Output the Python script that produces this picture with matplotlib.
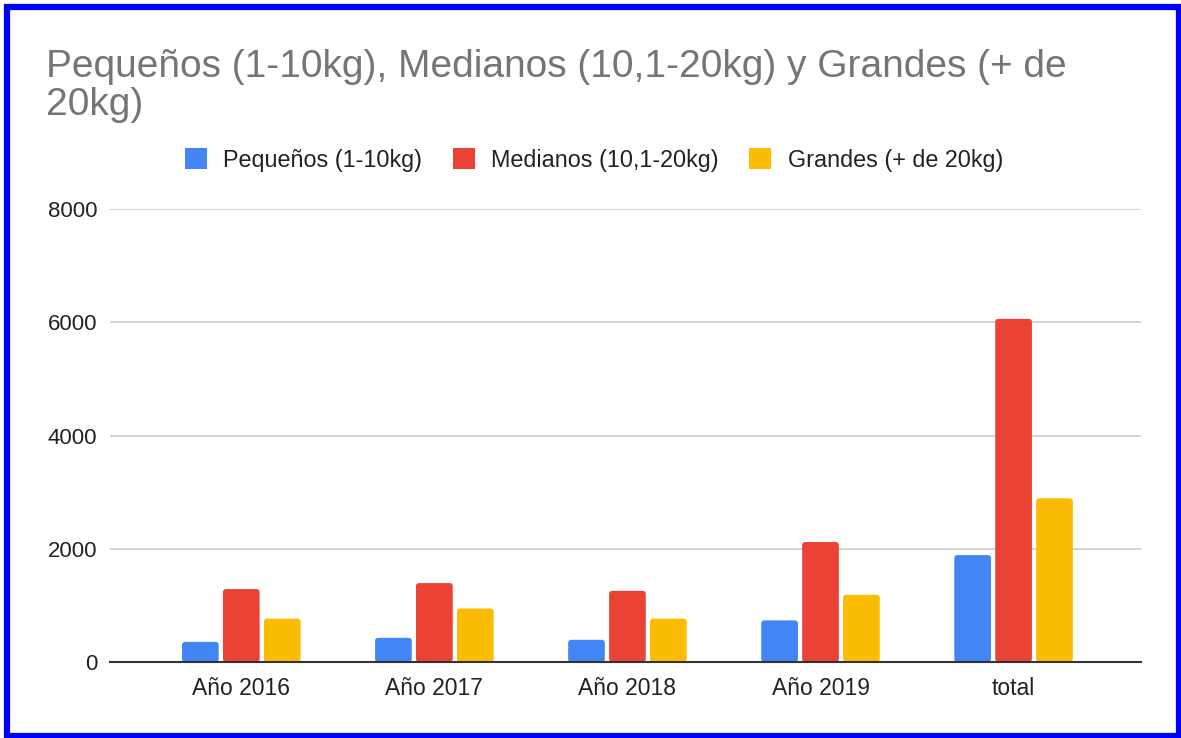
import numpy as np
import matplotlib
matplotlib.use("Agg")
import matplotlib.pyplot as plt
from matplotlib.patches import Rectangle, Patch, FancyBboxPatch

plt.rcParams['font.family'] = ['Liberation Sans', 'DejaVu Sans']

categories = ["Año 2016", "Año 2017", "Año 2018", "Año 2019", "total"]
pequenos = [356, 427, 392, 735, 1888]
medianos = [1288, 1394, 1257, 2119, 6060]
grandes = [766, 944, 766, 1186, 2892]

series_names = ["Pequeños (1-10kg)", "Medianos (10,1-20kg)", "Grandes (+ de 20kg)"]
colors = ["#4285f4", "#ea4335", "#fbbc04"]
title_lines = ["Pequeños (1-10kg), Medianos (10,1-20kg) y Grandes (+ de", "20kg)"]

W, H = 1181, 738
fig = plt.figure(figsize=(W / 100, H / 100), dpi=100)
fig.patch.set_facecolor("white")

ax = fig.add_axes([110 / W, (H - 662) / H, (1141 - 110) / W, (662 - 209) / H])

x = np.arange(len(categories))
step = 0.212
width = 0.19
ax.set_ylim(0, 8000)
ax.set_xlim(-0.68, 4.66)

# relacion de unidades y/x en pixeles, para esquinas redondeadas
px_x = (4.66 + 0.68) / (1141 - 110)
px_y = 8000 / (662 - 209)
for i, (vals, c) in enumerate(zip([pequenos, medianos, grandes], colors)):
    bars = ax.bar(x + (i - 1) * step, vals, width=width, color=c, zorder=3)
    for b in bars:
        b.set_visible(False)
        rb = FancyBboxPatch((b.get_x(), b.get_y()), b.get_width(), b.get_height(),
                            boxstyle=f"round,pad=0,rounding_size={3 * px_x}",
                            mutation_aspect=px_y / px_x,
                            facecolor=c, edgecolor="none", zorder=3)
        ax.add_patch(rb)

ax.set_yticks([0, 2000, 4000, 6000, 8000])
ax.set_xticks(x)
ax.set_xticklabels(categories)
ax.grid(axis="y", color="#cccccc", linewidth=1.2, zorder=0)
for s in ["top", "right", "left"]:
    ax.spines[s].set_visible(False)
ax.spines["bottom"].set_color("#333333")
ax.spines["bottom"].set_linewidth(1.5)
ax.spines["bottom"].set_zorder(4)
ax.tick_params(axis="y", length=0, pad=9, labelsize=16, labelcolor="#222222")
ax.tick_params(axis="x", length=0, pad=11, labelsize=16.5, labelcolor="#222222")

# titulo en dos lineas
fig.text(46 / W, 1 - 67 / H, title_lines[0], fontsize=28, color="#757575", va="center", ha="left")
fig.text(46 / W, 1 - 105 / H, title_lines[1], fontsize=28, color="#757575", va="center", ha="left")

handles = [Patch(facecolor=c, edgecolor="none") for c in colors]
fig.legend(handles, series_names, loc="center", bbox_to_anchor=(594 / W, 1 - 160 / H),
           ncol=3, frameon=False, fontsize=16.8, labelcolor="#222222",
           handlelength=0.95, handleheight=0.95, handletextpad=0.7, columnspacing=1.3)

# borde azul
fig.patches.append(Rectangle((6.5 / W, 2.5 / H), (1179 - 6.5) / W, (730 - 1.5) / H,
                             transform=fig.transFigure, fill=False, edgecolor="#0000ff",
                             linewidth=4.5))

fig.savefig("out.png", dpi=100)
